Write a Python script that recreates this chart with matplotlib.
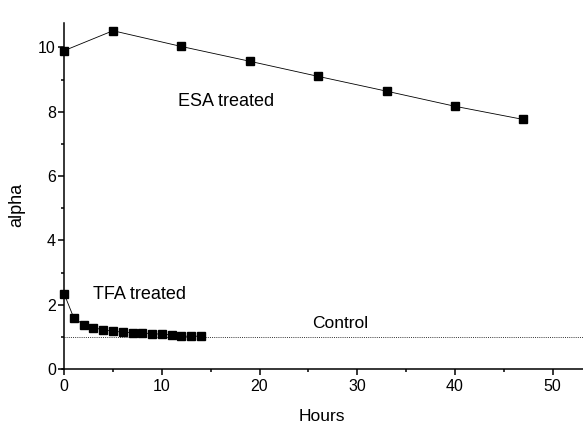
import matplotlib
matplotlib.use("Agg")
import matplotlib.pyplot as plt

plt.rcParams['font.family'] = ['Liberation Sans', 'DejaVu Sans']

esa_hours = [0, 5, 12, 19, 26, 33, 40, 47]
esa_alpha = [9.90, 10.52, 10.03, 9.57, 9.10, 8.64, 8.17, 7.76]

tfa_hours = [0, 1, 2, 3, 4, 5, 6, 7, 8, 9, 10, 11, 12, 13, 14]
tfa_alpha = [2.34, 1.58, 1.38, 1.28, 1.22, 1.17, 1.15, 1.13, 1.12, 1.10,
             1.08, 1.06, 1.02, 1.02, 1.02]

control_hours = [0, 53.1]
control_alpha = [1.0, 1.0]

x_major = [0, 10, 20, 30, 40, 50]
x_minor = [5, 15, 25, 35, 45]
y_major = [0, 2, 4, 6, 8, 10]
y_minor = [1, 3, 5, 7, 9]

fig = plt.figure(figsize=(5.83, 4.23), dpi=100)
ax = fig.add_axes([0.1058, 0.1277, 0.8942, 0.8179])

ax.plot(control_hours, control_alpha, linestyle=(0, (1, 1.2)), color='#333333',
        linewidth=0.7, clip_on=False)
ax.plot(esa_hours, esa_alpha, color='black', linewidth=0.6, marker='s',
        markersize=5.7, clip_on=False, zorder=3)
ax.plot(tfa_hours, tfa_alpha, color='black', linewidth=0.6, marker='s',
        markersize=5.7, clip_on=False, zorder=3)

ax.text(11.7, 8.19, 'ESA treated', fontsize=13, ha='left', va='baseline')
ax.text(3.0, 2.19, 'TFA treated', fontsize=13, ha='left', va='baseline')
ax.text(25.4, 1.28, 'Control', fontsize=12.5, ha='left', va='baseline')

ax.set_xlim(-0.25, 53.1)
ax.set_ylim(0, 10.76)
ax.spines['left'].set_position(('data', 0))
ax.spines['top'].set_visible(False)
ax.spines['right'].set_visible(False)
for s in ('left', 'bottom'):
    ax.spines[s].set_linewidth(1.1)

ax.set_xticks(x_major)
ax.set_xticks(x_minor, minor=True)
ax.set_yticks(y_major)
ax.set_yticks(y_minor, minor=True)
ax.tick_params(which='major', direction='out', length=4, width=1.1,
               labelsize=11.5, pad=3)
ax.tick_params(which='minor', direction='out', length=2.5, width=1.1)
ax.tick_params(axis='y', which='major', pad=2)

ax.set_xlabel('Hours', fontsize=12.5, labelpad=11)
ax.set_ylabel('alpha', fontsize=13)
ax.yaxis.set_label_coords(-0.07, 0.474)

fig.savefig('out.png', dpi=100)
